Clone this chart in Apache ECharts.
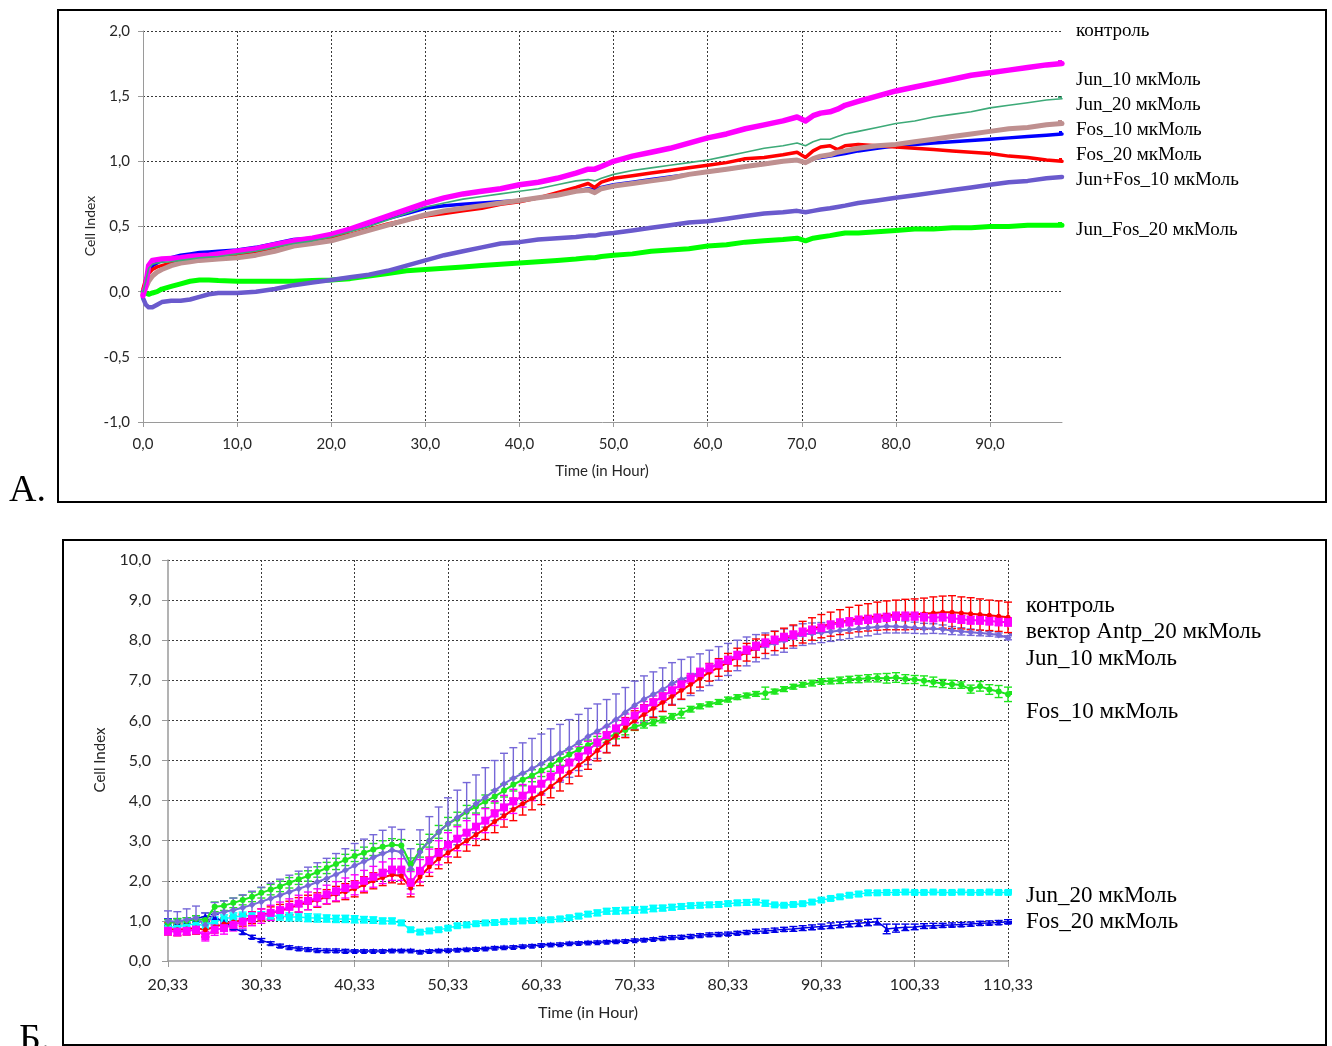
<!DOCTYPE html>
<html>
<head>
<meta charset="utf-8">
<script src="https://cdn.jsdelivr.net/npm/echarts@6/dist/echarts.min.js"></script>
<style>
html, body { margin: 0; padding: 0; background: #fff; }
#chart { width: 1332px; height: 1046px; }
</style>
</head>
<body>
<div id="chart"></div>
<script>
// ---------- Panel A: real-time cell index, time in hours ----------
const hoursA = [0, 0.3, 0.6, 1, 1.5, 2, 3, 4, 5, 6, 7, 8, 10, 12, 14, 16, 18, 20, 22, 24, 26, 28, 30,
  32, 34, 36, 38, 40, 42, 44, 46, 47.3, 48, 48.7, 50, 52, 54, 56, 58, 60, 62, 64, 66, 68,
  69.5, 70.4, 71.2, 72, 73, 73.8, 74.6, 76, 78, 80, 82, 84, 86, 88, 90, 92, 94, 96, 97.65];

const controlA = [0.00, 0.05, 0.15, 0.20, 0.22, 0.24, 0.26, 0.28, 0.29, 0.30, 0.305, 0.31, 0.32, 0.34, 0.37, 0.40, 0.41, 0.43, 0.47, 0.52, 0.56, 0.60, 0.64,
  0.66, 0.67, 0.68, 0.69, 0.70, 0.72, 0.74, 0.77, 0.79, 0.78, 0.80, 0.82, 0.84, 0.86, 0.88, 0.90, 0.92, 0.94, 0.96, 0.98, 1.00,
  1.01, 0.99, 1.02, 1.03, 1.04, 1.05, 1.06, 1.08, 1.10, 1.12, 1.13, 1.14, 1.15, 1.16, 1.17, 1.18, 1.19, 1.20, 1.21];
const jun10A = [-0.03, 0.05, 0.20, 0.24, 0.245, 0.25, 0.255, 0.26, 0.27, 0.275, 0.28, 0.29, 0.31, 0.33, 0.36, 0.39, 0.41, 0.44, 0.48, 0.53, 0.58, 0.63, 0.68,
  0.72, 0.75, 0.77, 0.79, 0.82, 0.84, 0.87, 0.91, 0.94, 0.94, 0.96, 1.00, 1.04, 1.07, 1.10, 1.14, 1.18, 1.21, 1.25, 1.28, 1.31,
  1.34, 1.31, 1.35, 1.37, 1.38, 1.40, 1.43, 1.46, 1.50, 1.54, 1.57, 1.60, 1.63, 1.66, 1.68, 1.70, 1.72, 1.74, 1.75];
const jun20A = [0.00, 0.08, 0.18, 0.21, 0.22, 0.225, 0.23, 0.24, 0.25, 0.26, 0.265, 0.27, 0.29, 0.31, 0.34, 0.37, 0.39, 0.42, 0.46, 0.50, 0.55, 0.60, 0.65,
  0.68, 0.71, 0.73, 0.75, 0.77, 0.79, 0.82, 0.85, 0.86, 0.85, 0.87, 0.90, 0.93, 0.95, 0.97, 0.99, 1.01, 1.04, 1.07, 1.10, 1.12,
  1.14, 1.12, 1.15, 1.17, 1.17, 1.19, 1.21, 1.23, 1.26, 1.29, 1.31, 1.34, 1.36, 1.38, 1.41, 1.43, 1.45, 1.47, 1.48];
const fos10A = [-0.02, 0.03, 0.08, 0.12, 0.15, 0.17, 0.20, 0.22, 0.23, 0.24, 0.245, 0.25, 0.26, 0.28, 0.31, 0.35, 0.37, 0.39, 0.43, 0.47, 0.51, 0.55, 0.59,
  0.62, 0.64, 0.66, 0.68, 0.70, 0.72, 0.74, 0.77, 0.78, 0.76, 0.79, 0.81, 0.83, 0.85, 0.87, 0.90, 0.92, 0.94, 0.96, 0.98, 1.00,
  1.01, 0.99, 1.02, 1.04, 1.05, 1.07, 1.08, 1.10, 1.12, 1.13, 1.15, 1.17, 1.19, 1.21, 1.23, 1.25, 1.26, 1.28, 1.29];
const fos20A = [0.02, 0.10, 0.14, 0.17, 0.19, 0.20, 0.22, 0.24, 0.25, 0.26, 0.27, 0.27, 0.28, 0.30, 0.33, 0.36, 0.38, 0.41, 0.44, 0.48, 0.52, 0.55, 0.58,
  0.60, 0.62, 0.64, 0.67, 0.69, 0.72, 0.76, 0.80, 0.83, 0.80, 0.84, 0.87, 0.89, 0.91, 0.93, 0.95, 0.97, 0.99, 1.02, 1.03, 1.05,
  1.07, 1.03, 1.08, 1.11, 1.12, 1.09, 1.12, 1.13, 1.12, 1.11, 1.10, 1.09, 1.08, 1.07, 1.06, 1.04, 1.03, 1.01, 1.00];
const junFos10A = [-0.05, -0.10, -0.12, -0.12, -0.10, -0.08, -0.07, -0.07, -0.06, -0.04, -0.02, -0.01, -0.01, 0.00, 0.02, 0.05, 0.07, 0.09, 0.11, 0.13, 0.16, 0.20, 0.24,
  0.28, 0.31, 0.34, 0.37, 0.38, 0.40, 0.41, 0.42, 0.43, 0.43, 0.44, 0.45, 0.47, 0.49, 0.51, 0.53, 0.54, 0.56, 0.58, 0.60, 0.61,
  0.62, 0.61, 0.62, 0.63, 0.64, 0.65, 0.66, 0.68, 0.70, 0.72, 0.74, 0.76, 0.78, 0.80, 0.82, 0.84, 0.85, 0.87, 0.88];
const junFos20A = [0.00, -0.01, -0.02, -0.01, 0.00, 0.02, 0.04, 0.06, 0.08, 0.09, 0.09, 0.085, 0.08, 0.08, 0.08, 0.08, 0.085, 0.09, 0.10, 0.12, 0.14, 0.16, 0.17,
  0.18, 0.19, 0.20, 0.21, 0.22, 0.23, 0.24, 0.25, 0.26, 0.26, 0.27, 0.28, 0.29, 0.31, 0.32, 0.33, 0.35, 0.36, 0.38, 0.39, 0.40,
  0.41, 0.39, 0.41, 0.42, 0.43, 0.44, 0.45, 0.45, 0.46, 0.47, 0.48, 0.48, 0.49, 0.49, 0.50, 0.50, 0.51, 0.51, 0.51];

const legendA = ['контроль', 'Jun_10 мкМоль', 'Jun_20 мкМоль', 'Fos_10 мкМоль', 'Fos_20 мкМоль', 'Jun+Fos_10 мкМоль', 'Jun_Fos_20 мкМоль'];

// ---------- Panel Б: hourly readings with error bars ----------
const hoursB = [20.33, 21.33, 22.33, 23.33, 24.33, 25.33, 26.33, 27.33, 28.33, 29.33,
  30.33, 31.33, 32.33, 33.33, 34.33, 35.33, 36.33, 37.33, 38.33, 39.33,
  40.33, 41.33, 42.33, 43.33, 44.33, 45.33, 46.33, 47.33, 48.33, 49.33,
  50.33, 51.33, 52.33, 53.33, 54.33, 55.33, 56.33, 57.33, 58.33, 59.33,
  60.33, 61.33, 62.33, 63.33, 64.33, 65.33, 66.33, 67.33, 68.33, 69.33,
  70.33, 71.33, 72.33, 73.33, 74.33, 75.33, 76.33, 77.33, 78.33, 79.33,
  80.33, 81.33, 82.33, 83.33, 84.33, 85.33, 86.33, 87.33, 88.33, 89.33,
  90.33, 91.33, 92.33, 93.33, 94.33, 95.33, 96.33, 97.33, 98.33, 99.33,
  100.33, 101.33, 102.33, 103.33, 104.33, 105.33, 106.33, 107.33, 108.33, 109.33, 110.33];

const controlB = [0.80, 0.78, 0.80, 0.82, 0.78, 0.85, 0.92, 0.97, 1.02, 1.08,
  1.15, 1.20, 1.25, 1.32, 1.40, 1.46, 1.52, 1.60, 1.67, 1.73,
  1.80, 1.90, 2.00, 2.08, 2.15, 2.12, 1.82, 2.10, 2.35, 2.55,
  2.70, 2.85, 3.00, 3.15, 3.30, 3.48, 3.62, 3.78, 3.92, 4.05,
  4.18, 4.35, 4.52, 4.70, 4.88, 5.05, 5.25, 5.45, 5.62, 5.82,
  6.00, 6.15, 6.30, 6.45, 6.60, 6.75, 6.90, 7.05, 7.20, 7.32,
  7.45, 7.58, 7.70, 7.80, 7.90, 7.98, 8.05, 8.12, 8.20, 8.28,
  8.35, 8.40, 8.45, 8.50, 8.54, 8.57, 8.60, 8.62, 8.63, 8.64,
  8.65, 8.66, 8.68, 8.70, 8.70, 8.68, 8.66, 8.64, 8.62, 8.60, 8.57];
const controlErrB = [0.15, 0.15, 0.15, 0.15, 0.18, 0.15, 0.15, 0.15, 0.15, 0.15,
  0.15, 0.15, 0.16, 0.17, 0.18, 0.18, 0.18, 0.18, 0.19, 0.20,
  0.20, 0.20, 0.20, 0.20, 0.20, 0.20, 0.22, 0.22, 0.24, 0.25,
  0.25, 0.26, 0.26, 0.27, 0.27, 0.28, 0.28, 0.28, 0.28, 0.28,
  0.28, 0.28, 0.28, 0.28, 0.27, 0.27, 0.26, 0.26, 0.25, 0.25,
  0.24, 0.24, 0.23, 0.23, 0.22, 0.22, 0.22, 0.22, 0.22, 0.22,
  0.22, 0.22, 0.22, 0.23, 0.23, 0.24, 0.25, 0.26, 0.27, 0.28,
  0.29, 0.30, 0.31, 0.32, 0.33, 0.34, 0.35, 0.36, 0.37, 0.38,
  0.38, 0.39, 0.40, 0.40, 0.41, 0.40, 0.40, 0.39, 0.38, 0.38, 0.38];

const antpB = [0.75, 0.73, 0.75, 0.78, 0.62, 0.78, 0.82, 0.90, 0.98, 1.05,
  1.12, 1.20, 1.27, 1.35, 1.43, 1.50, 1.58, 1.66, 1.74, 1.82,
  1.90, 2.00, 2.10, 2.20, 2.28, 2.28, 1.95, 2.25, 2.50, 2.70,
  2.90, 3.05, 3.20, 3.35, 3.50, 3.68, 3.83, 3.98, 4.12, 4.28,
  4.42, 4.60, 4.77, 4.95, 5.10, 5.25, 5.45, 5.63, 5.80, 5.97,
  6.12, 6.30, 6.45, 6.60, 6.75, 6.90, 7.05, 7.18, 7.30, 7.40,
  7.50, 7.62, 7.75, 7.85, 7.93, 8.00, 8.07, 8.13, 8.20, 8.25,
  8.30, 8.38, 8.43, 8.46, 8.50, 8.52, 8.55, 8.57, 8.60, 8.60,
  8.60, 8.58, 8.56, 8.58, 8.55, 8.52, 8.50, 8.50, 8.48, 8.46, 8.45];
const antpErrB = [0.10, 0.10, 0.10, 0.10, 0.12, 0.14, 0.15, 0.15, 0.16, 0.17,
  0.18, 0.19, 0.20, 0.20, 0.21, 0.22, 0.22, 0.23, 0.24, 0.25,
  0.25, 0.26, 0.26, 0.27, 0.27, 0.27, 0.28, 0.28, 0.29, 0.30,
  0.30, 0.30, 0.30, 0.30, 0.30, 0.30, 0.30, 0.30, 0.28, 0.28,
  0.28, 0.27, 0.26, 0.25, 0.24, 0.23, 0.22, 0.21, 0.20, 0.19,
  0.18, 0.17, 0.16, 0.15, 0.14, 0.13, 0.12, 0.12, 0.11, 0.11,
  0.10, 0.10, 0.10, 0.10, 0.10, 0.10, 0.10, 0.10, 0.10, 0.10,
  0.10, 0.10, 0.10, 0.10, 0.10, 0.10, 0.10, 0.10, 0.10, 0.10,
  0.10, 0.10, 0.10, 0.10, 0.10, 0.10, 0.10, 0.10, 0.10, 0.10, 0.10];

const jun10B = [1.00, 0.98, 1.03, 1.07, 0.90, 1.18, 1.22, 1.27, 1.33, 1.40,
  1.48, 1.56, 1.64, 1.72, 1.80, 1.88, 1.97, 2.06, 2.16, 2.26,
  2.38, 2.48, 2.58, 2.68, 2.76, 2.72, 2.30, 2.72, 3.00, 3.22,
  3.42, 3.58, 3.75, 3.92, 4.08, 4.25, 4.42, 4.56, 4.68, 4.80,
  4.92, 5.05, 5.18, 5.30, 5.45, 5.60, 5.73, 5.86, 6.02, 6.20,
  6.38, 6.53, 6.65, 6.77, 6.92, 7.02, 7.10, 7.20, 7.31, 7.42,
  7.52, 7.62, 7.72, 7.80, 7.86, 7.93, 7.99, 8.08, 8.14, 8.17,
  8.19, 8.21, 8.24, 8.26, 8.29, 8.31, 8.33, 8.35, 8.34, 8.33,
  8.31, 8.29, 8.29, 8.27, 8.24, 8.22, 8.20, 8.18, 8.16, 8.13, 8.06];
const jun10ErrB = [0.25, 0.25, 0.27, 0.30, 0.30, 0.28, 0.28, 0.30, 0.32, 0.34,
  0.36, 0.38, 0.40, 0.42, 0.44, 0.46, 0.48, 0.50, 0.52, 0.54,
  0.55, 0.56, 0.57, 0.58, 0.58, 0.56, 0.50, 0.55, 0.60, 0.62,
  0.65, 0.68, 0.70, 0.72, 0.74, 0.75, 0.76, 0.76, 0.76, 0.75,
  0.74, 0.74, 0.72, 0.72, 0.70, 0.70, 0.68, 0.66, 0.64, 0.62,
  0.60, 0.58, 0.56, 0.54, 0.52, 0.50, 0.48, 0.46, 0.44, 0.42,
  0.40, 0.38, 0.36, 0.34, 0.32, 0.30, 0.29, 0.28, 0.27, 0.26,
  0.25, 0.24, 0.23, 0.22, 0.21, 0.20, 0.18, 0.17, 0.16, 0.15,
  0.14, 0.13, 0.12, 0.11, 0.10, 0.09, 0.08, 0.07, 0.06, 0.05, 0.05];

const fos10B = [0.95, 0.98, 1.00, 1.05, 1.02, 1.35, 1.38, 1.45, 1.52, 1.60,
  1.70, 1.78, 1.86, 1.95, 2.04, 2.12, 2.22, 2.32, 2.42, 2.52,
  2.62, 2.70, 2.78, 2.85, 2.90, 2.88, 2.42, 2.75, 3.00, 3.22,
  3.42, 3.55, 3.72, 3.85, 3.98, 4.10, 4.25, 4.40, 4.52, 4.62,
  4.75, 4.88, 5.02, 5.15, 5.27, 5.38, 5.48, 5.57, 5.66, 5.76,
  5.85, 5.90, 5.95, 6.02, 6.10, 6.18, 6.28, 6.35, 6.40, 6.46,
  6.52, 6.58, 6.62, 6.66, 6.68, 6.72, 6.78, 6.84, 6.89, 6.93,
  6.97, 6.98, 7.00, 7.02, 7.03, 7.05, 7.06, 7.05, 7.07, 7.03,
  7.02, 6.99, 6.96, 6.92, 6.90, 6.88, 6.78, 6.85, 6.77, 6.72, 6.65];
const fos10ErrB = [0.08, 0.08, 0.08, 0.08, 0.08, 0.12, 0.12, 0.12, 0.12, 0.12,
  0.13, 0.13, 0.13, 0.13, 0.13, 0.13, 0.13, 0.14, 0.14, 0.14,
  0.14, 0.14, 0.15, 0.15, 0.15, 0.15, 0.15, 0.16, 0.16, 0.16,
  0.16, 0.16, 0.16, 0.16, 0.16, 0.16, 0.16, 0.16, 0.15, 0.15,
  0.15, 0.15, 0.14, 0.14, 0.13, 0.13, 0.12, 0.12, 0.12, 0.12,
  0.10, 0.09, 0.08, 0.08, 0.07, 0.12, 0.07, 0.06, 0.06, 0.06,
  0.06, 0.06, 0.06, 0.06, 0.15, 0.06, 0.06, 0.06, 0.06, 0.07,
  0.07, 0.07, 0.08, 0.08, 0.09, 0.09, 0.10, 0.12, 0.12, 0.11,
  0.10, 0.12, 0.12, 0.10, 0.10, 0.08, 0.10, 0.12, 0.12, 0.15, 0.18];

const jun20B = [0.85, 0.85, 0.90, 0.92, 0.88, 1.00, 1.05, 1.10, 1.12, 1.13,
  1.13, 1.12, 1.12, 1.10, 1.10, 1.08, 1.07, 1.06, 1.05, 1.05,
  1.04, 1.03, 1.02, 1.00, 1.00, 0.95, 0.78, 0.72, 0.75, 0.78,
  0.82, 0.88, 0.90, 0.93, 0.95, 0.96, 0.98, 0.99, 1.00, 1.01,
  1.02, 1.03, 1.05, 1.08, 1.12, 1.17, 1.20, 1.24, 1.25, 1.26,
  1.27, 1.28, 1.31, 1.32, 1.34, 1.36, 1.38, 1.39, 1.40, 1.41,
  1.43, 1.45, 1.46, 1.47, 1.44, 1.40, 1.39, 1.41, 1.43, 1.47,
  1.52, 1.56, 1.60, 1.64, 1.67, 1.70, 1.70, 1.71, 1.71, 1.72,
  1.71, 1.71, 1.72, 1.71, 1.71, 1.72, 1.71, 1.71, 1.72, 1.71, 1.71];
const jun20ErrB = [0.08, 0.08, 0.08, 0.08, 0.08, 0.10, 0.10, 0.10, 0.10, 0.10,
  0.10, 0.10, 0.10, 0.10, 0.10, 0.10, 0.10, 0.09, 0.09, 0.09,
  0.09, 0.08, 0.08, 0.07, 0.07, 0.06, 0.05, 0.05, 0.05, 0.05,
  0.05, 0.05, 0.05, 0.05, 0.05, 0.05, 0.05, 0.05, 0.05, 0.05,
  0.05, 0.05, 0.05, 0.05, 0.06, 0.06, 0.07, 0.07, 0.08, 0.08,
  0.08, 0.08, 0.08, 0.07, 0.07, 0.07, 0.06, 0.06, 0.06, 0.06,
  0.06, 0.06, 0.07, 0.07, 0.07, 0.04, 0.04, 0.04, 0.04, 0.05,
  0.05, 0.05, 0.05, 0.05, 0.06, 0.06, 0.05, 0.05, 0.05, 0.05,
  0.04, 0.04, 0.04, 0.04, 0.04, 0.04, 0.04, 0.04, 0.04, 0.04, 0.04];

const fos20B = [0.97, 0.97, 1.00, 1.05, 1.12, 1.10, 0.97, 0.83, 0.72, 0.60,
  0.52, 0.44, 0.38, 0.34, 0.31, 0.29, 0.27, 0.26, 0.26, 0.25,
  0.25, 0.25, 0.25, 0.25, 0.26, 0.26, 0.26, 0.23, 0.25, 0.26,
  0.27, 0.28, 0.29, 0.30, 0.31, 0.33, 0.34, 0.35, 0.37, 0.38,
  0.40, 0.41, 0.42, 0.44, 0.45, 0.46, 0.47, 0.48, 0.49, 0.50,
  0.52, 0.53, 0.55, 0.57, 0.59, 0.60, 0.62, 0.64, 0.66, 0.67,
  0.68, 0.70, 0.72, 0.74, 0.75, 0.77, 0.79, 0.80, 0.82, 0.84,
  0.86, 0.88, 0.90, 0.92, 0.94, 0.96, 0.98, 0.80, 0.82, 0.84,
  0.85, 0.87, 0.88, 0.89, 0.90, 0.91, 0.92, 0.94, 0.95, 0.96, 0.98];
const fos20ErrB = [0.08, 0.08, 0.08, 0.08, 0.08, 0.06, 0.05, 0.05, 0.05, 0.04,
  0.04, 0.04, 0.04, 0.04, 0.04, 0.04, 0.04, 0.04, 0.04, 0.04,
  0.03, 0.03, 0.03, 0.03, 0.03, 0.03, 0.03, 0.03, 0.03, 0.03,
  0.03, 0.03, 0.03, 0.03, 0.03, 0.03, 0.03, 0.03, 0.03, 0.03,
  0.03, 0.03, 0.03, 0.03, 0.03, 0.03, 0.03, 0.03, 0.03, 0.03,
  0.03, 0.03, 0.03, 0.04, 0.04, 0.04, 0.04, 0.04, 0.04, 0.04,
  0.04, 0.04, 0.04, 0.05, 0.05, 0.05, 0.05, 0.06, 0.06, 0.06,
  0.06, 0.07, 0.07, 0.07, 0.08, 0.08, 0.08, 0.12, 0.10, 0.08,
  0.07, 0.06, 0.06, 0.05, 0.05, 0.05, 0.05, 0.05, 0.05, 0.05, 0.05];

const legendB = ['контроль', 'вектор Antp_20 мкМоль', 'Jun_10 мкМоль', 'Fos_10 мкМоль', 'Jun_20 мкМоль', 'Fos_20 мкМоль'];

// ---------- helpers ----------
const T0 = hoursB[0];               // panel Б axis starts at the first reading
const comma = (v, d) => v.toFixed(d).replace('.', ',');
const pairs = (xs, ys) => xs.map((x, i) => [x, ys[i]]);
const pairsB = (ys) => hoursB.map((t, i) => [+(t - T0).toFixed(2), ys[i]]);

const AXIS_FONT = 'Lato, "Open Sans", sans-serif';
const SERIF = '"Liberation Serif", "Times New Roman", serif';
const gridDash = { color: '#3a3a3a', width: 1, type: [2, 2] };

function lineA(name, data, color, width) {
  return {
    type: 'line', name, xAxisIndex: 0, yAxisIndex: 0,
    data: pairs(hoursA, data), showSymbol: false, smooth: false,
    lineStyle: { color, width, cap: 'round', join: 'round' }, itemStyle: { color }
  };
}

function lineB(name, data, color, symbol, size, width) {
  return {
    type: 'line', name, xAxisIndex: 1, yAxisIndex: 1,
    data: pairsB(data), showSymbol: true, showAllSymbol: true,
    symbol, symbolSize: size,
    lineStyle: { color, width }, itemStyle: { color, borderWidth: 0 }
  };
}

function errB(name, vals, errs, color) {
  return {
    type: 'custom', name: name + ' err', xAxisIndex: 1, yAxisIndex: 1, silent: true,
    data: hoursB.map((t, i) => [+(t - T0).toFixed(2), vals[i] - errs[i], vals[i] + errs[i]]),
    encode: { x: 0, y: [1, 2] },
    renderItem(params, api) {
      const x = api.value(0);
      const top = api.coord([x, api.value(2)]);
      const bot = api.coord([x, api.value(1)]);
      const h = 4;
      const style = { stroke: color, lineWidth: 1.4, fill: null };
      return {
        type: 'group',
        children: [
          { type: 'line', shape: { x1: top[0], y1: top[1], x2: bot[0], y2: bot[1] }, style },
          { type: 'line', shape: { x1: top[0] - h, y1: top[1], x2: top[0] + h, y2: top[1] }, style },
          { type: 'line', shape: { x1: bot[0] - h, y1: bot[1], x2: bot[0] + h, y2: bot[1] }, style }
        ]
      };
    }
  };
}

function text(x, y, str, font, opts) {
  return Object.assign({
    type: 'text', x, y, silent: true,
    style: {
      text: str, font, fill: '#000',
      textAlign: 'left', align: 'left',
      textVerticalAlign: 'middle', verticalAlign: 'middle'
    }
  }, opts || {});
}

function centred(x, y, str, font, rotate) {
  const el = {
    type: 'text', x, y, silent: true,
    style: {
      text: str, font, fill: '#262626',
      textAlign: 'center', align: 'center',
      textVerticalAlign: 'middle', verticalAlign: 'middle'
    }
  };
  if (rotate) el.rotation = Math.PI / 2;
  return el;
}

// ---------- colours ----------
const C = {
  blue: '#0000ff', magenta: '#ff00ff', teal: '#3daa78', brown: '#bf9090',
  red: '#ff0000', purple: '#6a5acd', green: '#00ff00',
  bPurple: '#7668d8', bGreen: '#1ee61e', bCyan: '#00ffff', bBlue: '#0000e6'
};

// ---------- chart ----------
const chart = echarts.init(document.getElementById('chart'), null, { renderer: 'canvas' });

const legendAY = [31, 80, 105, 130, 155, 180, 230];
const legendBY = [606, 632, 659, 712, 896, 922];

const graphics = [
  // panel frames
  { type: 'rect', shape: { x: 58, y: 10, width: 1268, height: 492 }, style: { fill: null, stroke: '#000', lineWidth: 2 }, silent: true },
  { type: 'rect', shape: { x: 63, y: 540, width: 1263, height: 505 }, style: { fill: null, stroke: '#000', lineWidth: 2 }, silent: true },
  // panel letters
  text(9, 491, 'A.', '38px ' + SERIF),
  text(19, 1040, 'Б.', '38px ' + SERIF),
  // axis titles
  centred(90, 226, 'Cell Index', '14px ' + AXIS_FONT, true),
  centred(602, 471, 'Time (in Hour)', '15px ' + AXIS_FONT, false),
  centred(100, 760, 'Cell Index', '15px ' + AXIS_FONT, true),
  centred(588, 1013, 'Time (in Hour)', '16px ' + AXIS_FONT, false),
  // clipped legend keys at the plot edge
  { type: 'rect', shape: { x: 1058, y: 60, width: 4, height: 5 }, style: { fill: C.magenta }, silent: true },
  { type: 'rect', shape: { x: 1058, y: 96, width: 4, height: 2 }, style: { fill: C.teal }, silent: true },
  { type: 'rect', shape: { x: 1058, y: 120, width: 4, height: 5 }, style: { fill: C.brown }, silent: true },
  { type: 'rect', shape: { x: 1059, y: 131, width: 3, height: 4 }, style: { fill: C.blue }, silent: true },
  { type: 'rect', shape: { x: 1059, y: 158, width: 3, height: 3 }, style: { fill: C.red }, silent: true },
  { type: 'rect', shape: { x: 1059, y: 176, width: 3, height: 3 }, style: { fill: C.purple }, silent: true },
  { type: 'rect', shape: { x: 1058, y: 222, width: 4, height: 5 }, style: { fill: C.green }, silent: true },
  { type: 'rect', shape: { x: 1009, y: 617, width: 3, height: 6 }, style: { fill: C.magenta }, silent: true },
  { type: 'rect', shape: { x: 1009, y: 633, width: 3, height: 3 }, style: { fill: C.bPurple }, silent: true },
  { type: 'rect', shape: { x: 1009, y: 691, width: 3, height: 4 }, style: { fill: C.bGreen }, silent: true },
  { type: 'rect', shape: { x: 1009, y: 889, width: 3, height: 5 }, style: { fill: C.bCyan }, silent: true },
  { type: 'rect', shape: { x: 1009, y: 921, width: 3, height: 3 }, style: { fill: C.bBlue }, silent: true }
];
legendA.forEach((s, i) => graphics.push(text(1076, legendAY[i], s, '19px ' + SERIF)));
legendB.forEach((s, i) => graphics.push(text(1026, legendBY[i], s, '23px ' + SERIF)));

const axisLabelStyle = { color: '#262626', fontFamily: AXIS_FONT };

const option = {
  animation: false,
  backgroundColor: '#fff',
  grid: [
    { left: 143, top: 31, width: 919, height: 391, containLabel: false, outerBoundsMode: 'none' },
    { left: 168, top: 560, width: 840, height: 401, containLabel: false, outerBoundsMode: 'none' }
  ],
  xAxis: [
    {
      type: 'value', gridIndex: 0, min: 0, max: 97.65, interval: 10,
      axisLine: { show: true, onZero: false, lineStyle: { color: '#9a9a9a', width: 1 } },
      axisTick: { show: true, inside: false, length: 5, lineStyle: { color: '#9a9a9a' } },
      axisLabel: Object.assign({ margin: 15, fontSize: 15, showMaxLabel: false, formatter: v => comma(v, 1) }, axisLabelStyle),
      splitLine: { show: true, showMinLine: false, showMaxLine: false, lineStyle: gridDash }
    },
    {
      type: 'value', gridIndex: 1, min: 0, max: 90, interval: 10,
      axisLine: { show: true, onZero: false, lineStyle: { color: '#9a9a9a', width: 1.5 } },
      axisTick: { show: true, inside: false, length: 6, lineStyle: { color: '#9a9a9a' } },
      axisLabel: Object.assign({ margin: 16, fontSize: 16, formatter: v => comma(v + T0, 2) }, axisLabelStyle),
      splitLine: { show: true, showMinLine: false, showMaxLine: true, lineStyle: gridDash }
    }
  ],
  yAxis: [
    {
      type: 'value', gridIndex: 0, min: -1, max: 2, interval: 0.5,
      axisLine: { show: true, onZero: false, lineStyle: { color: '#9a9a9a', width: 1 } },
      axisTick: { show: true, inside: false, length: 5, lineStyle: { color: '#9a9a9a' } },
      axisLabel: Object.assign({ margin: 13, fontSize: 15, formatter: v => comma(v, 1) }, axisLabelStyle),
      splitLine: { show: true, showMinLine: false, lineStyle: gridDash }
    },
    {
      type: 'value', gridIndex: 1, min: 0, max: 10, interval: 1,
      axisLine: { show: true, onZero: false, lineStyle: { color: '#9a9a9a', width: 1.5 } },
      axisTick: { show: true, inside: false, length: 6, lineStyle: { color: '#9a9a9a' } },
      axisLabel: Object.assign({ margin: 17, fontSize: 16, formatter: v => comma(v, 1) }, axisLabelStyle),
      splitLine: { show: true, showMinLine: false, lineStyle: gridDash }
    }
  ],
  series: [
    // panel A
    lineA(legendA[6], junFos20A, C.green, 5),
    lineA(legendA[5], junFos10A, C.purple, 4.5),
    lineA(legendA[0], controlA, C.blue, 3.5),
    lineA(legendA[4], fos20A, C.red, 3.5),
    lineA(legendA[3], fos10A, C.brown, 5),
    lineA(legendA[1], jun10A, C.magenta, 5.5),
    lineA(legendA[2], jun20A, C.teal, 1.6),
    // panel Б
    errB(legendB[4], jun20B, jun20ErrB, C.bCyan),
    lineB(legendB[4], jun20B, C.bCyan, 'rect', 7, 1.5),
    errB(legendB[5], fos20B, fos20ErrB, C.bBlue),
    lineB(legendB[5], fos20B, C.bBlue, 'triangle', 6, 1.5),
    errB(legendB[3], fos10B, fos10ErrB, C.bGreen),
    lineB(legendB[3], fos10B, C.bGreen, 'circle', 6, 2),
    errB(legendB[2], jun10B, jun10ErrB, C.bPurple),
    lineB(legendB[2], jun10B, C.bPurple, 'diamond', 7, 2),
    errB(legendB[0], controlB, controlErrB, C.red),
    lineB(legendB[0], controlB, C.red, 'circle', 5, 2),
    errB(legendB[1], antpB, antpErrB, C.magenta),
    lineB(legendB[1], antpB, C.magenta, 'rect', 8, 2)
  ],
  graphic: graphics
};

chart.setOption(option);
</script>
</body>
</html>
